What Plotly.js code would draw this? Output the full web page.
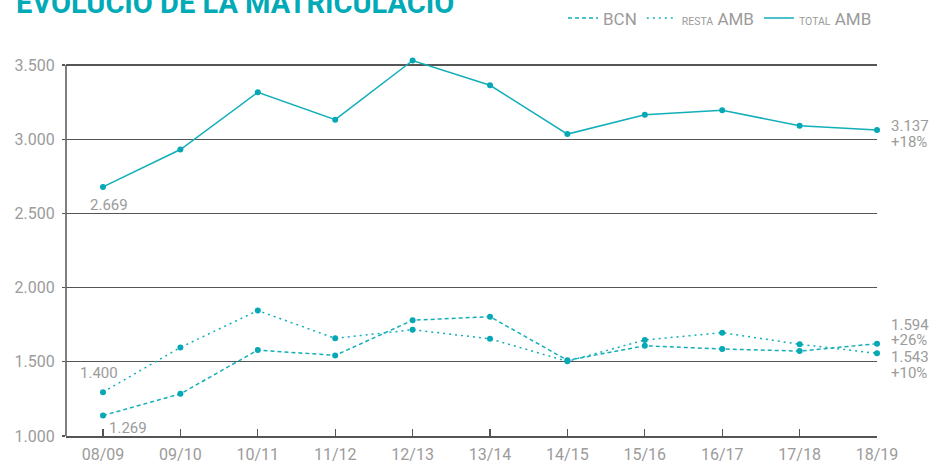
<!DOCTYPE html>
<html>
<head>
<meta charset="utf-8">
<script src="https://cdn.plot.ly/plotly-3.0.1.min.js"></script>
<style>html,body{margin:0;padding:0;background:#fff;}#chart{width:931px;height:465px;}</style>
</head>
<body>
<div id="chart"></div>
<script>
// Data
const seasons = ["08/09","09/10","10/11","11/12","12/13","13/14","14/15","15/16","16/17","17/18","18/19"];
const bcn     = [1138, 1284, 1579, 1543, 1780, 1804, 1510, 1608, 1586, 1572, 1622];
const restaAmb= [1295, 1597, 1845, 1658, 1716, 1655, 1503, 1647, 1696, 1618, 1557];
const totalAmb= [2678, 2930, 3316, 3131, 3530, 3363, 3034, 3165, 3194, 3091, 3061];
const yTicks  = [1000, 1500, 2000, 2500, 3000, 3500];
const yTickText = ["1.000","1.500","2.000","2.500","3.000","3.500"];

const teal = "#12aeb9";
const gray = "#9b9b9b";
const dark = "#555555";
const dashBCN = "4px,3px";
const dotResta = "2px,4px";

function lineTrace(y, name, dash) {
  return {x: seasons, y: y, name: name, type: "scatter", mode: "lines",
          line: {color: teal, width: 1.5, dash: dash}, hoverinfo: "skip", cliponaxis: false};
}
function markerTrace(y) {
  return {x: seasons, y: y, type: "scatter", mode: "markers", showlegend: false,
          marker: {color: "#05a8b4", size: 6}, hoverinfo: "skip", cliponaxis: false};
}

const data = [
  lineTrace(bcn, "BCN", dashBCN),
  lineTrace(restaAmb, "<span style='font-size:10.5px'>RESTA</span> AMB", dotResta),
  lineTrace(totalAmb, "<span style='font-size:10.5px'>TOTAL</span> AMB", "solid"),
  markerTrace(bcn), markerTrace(restaAmb), markerTrace(totalAmb)
];

const lblFont = {family: "Roboto, 'DejaVu Sans', sans-serif", size: 15, color: gray};
function ann(x, y, text, xanchor) {
  return {x: x, y: y, xref: "x", yref: "y", text: text, showarrow: false,
          xanchor: xanchor || "center", yanchor: "middle", font: lblFont};
}
function annR(y, text) {
  return {x: 1.015, y: y, xref: "paper", yref: "y", text: text, showarrow: false,
          xanchor: "left", yanchor: "middle", font: lblFont};
}

const layout = {
  width: 931, height: 465,
  margin: {l: 66, r: 54, t: 59, b: 29, autoexpand: false},
  paper_bgcolor: "#fff", plot_bgcolor: "#fff",
  font: {family: "Roboto, 'DejaVu Sans', sans-serif", color: gray},
  showlegend: true,
  legend: {orientation: "h", x: 1.0, xanchor: "right", xref: "paper", y: 1.155, yanchor: "top",
           font: {family: "Roboto, sans-serif", size: 17, color: gray}, itemwidth: 30,
           bgcolor: "rgba(0,0,0,0)"},
  xaxis: {type: "category", range: [-0.478, 10], showgrid: false, zeroline: false,
          showline: true, linecolor: dark, linewidth: 1.5,
          ticks: "inside", ticklen: 7, tickwidth: 1.2, tickcolor: dark,
          tickfont: {family: "Roboto, sans-serif", size: 16, color: gray},
          ticklabelstandoff: 3, fixedrange: true},
  yaxis: {range: [1000, 3540], tickvals: yTicks, ticktext: yTickText,
          showgrid: true, gridcolor: dark, gridwidth: 1.2, zeroline: false,
          showline: false,
          ticks: "outside", ticklen: 3, tickcolor: dark, tickwidth: 1.2,
          tickfont: {family: "Roboto, sans-serif", size: 16, color: gray},
          ticklabelstandoff: 4, fixedrange: true},
  shapes: [
    {type: "line", xref: "paper", yref: "y", x0: 0, x1: 0, y0: 1000, y1: 3500,
     line: {color: dark, width: 1.5}}
  ],
  annotations: [
    {xref: "paper", yref: "paper", x: -0.064, y: 1.098, xanchor: "left", yanchor: "bottom",
     text: "<b>EVOLUCIÓ DE LA MATRICULACIÓ</b>", showarrow: false,
     font: {family: "Roboto, sans-serif", size: 29, color: "#00aab6"}},
    ann(0.08, 2559, "2.669"),
    ann(-0.05, 1424, "1.400"),
    ann(0.05, 1052, "1.269", "left"),
    annR(3086, "3.137"),
    annR(2984, "+18%"),
    annR(1748, "1.594"),
    annR(1647, "+26%"),
    annR(1532, "1.543"),
    annR(1424, "+10%")
  ]
};

Plotly.newPlot("chart", data, layout, {displayModeBar: false, staticPlot: true});
</script>
</body>
</html>
